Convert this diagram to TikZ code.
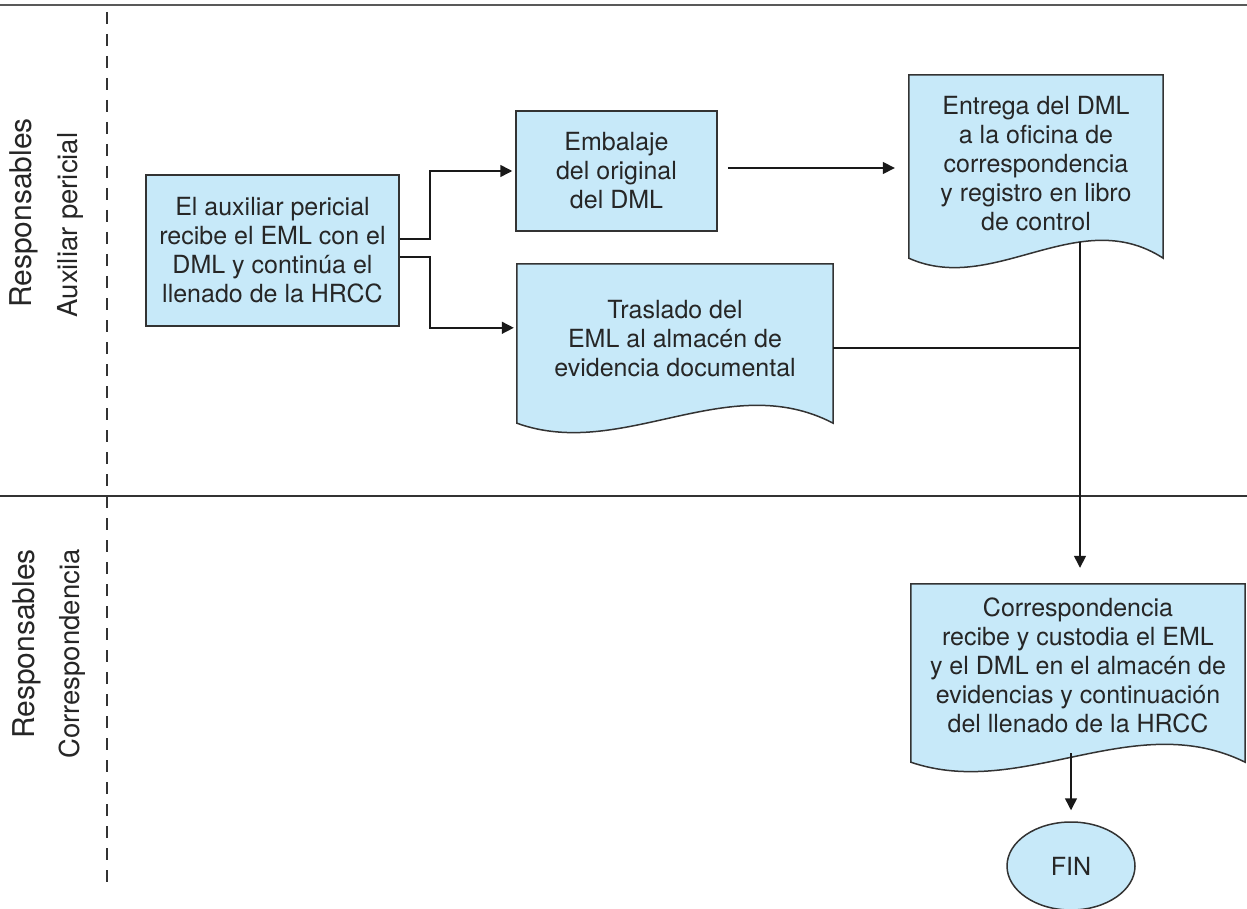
\documentclass[tikz,border=0pt]{standalone}
\usepackage{fontspec}
\setmainfont{TeX Gyre Heros}
\usetikzlibrary{arrows.meta,calc,backgrounds,shapes.geometric}
\definecolor{cajaazul}{RGB}{199,233,249}
\definecolor{borde}{RGB}{51,51,51}
\newcommand{\cajafont}{\fontsize{25}{29}\selectfont}
\tikzset{
 carril/.style={draw=black!65,line width=2pt},
 divisor/.style={draw=black!80,line width=1.2pt,dash pattern=on 12pt off 10pt},
 tarea/.style={rectangle,draw=borde,fill=cajaazul,line width=1.5pt,align=center,inner sep=0,font=\cajafont,text=black!85},
 docu/.style={rectangle,align=center,inner sep=0,font=\cajafont,text=black!85,text depth=#1},
 docu/.default=0pt,
 docborde/.style={draw=borde,fill=cajaazul,line width=1.5pt},
 terminal/.style={ellipse,draw=borde,fill=cajaazul,line width=1.5pt,inner sep=0,font=\cajafont,text=black!85},
 flujo/.style={draw=black!90,line width=1.5pt,-{Triangle[length=12pt,width=12pt]}},
 union/.style={draw=black!90,line width=1.5pt},
 rol/.style={rotate=90,font=\fontsize{30}{34}\selectfont,text=black!85},
 subrol/.style={rotate=90,font=\fontsize{27.5}{32}\selectfont,text=black!85}
}
% contorno de documento con borde ondulado
\newcommand{\docfondo}[1]{%
 \begin{scope}[on background layer]
 \path[docborde] (#1.south west) -- (#1.north west) -- (#1.north east) -- (#1.south east)
  .. controls ($(#1.south east)!1/3!(#1.south west)+(0,-55)$) and ($(#1.south east)!2/3!(#1.south west)+(0,38)$) .. (#1.south west) -- cycle;
 \end{scope}}

\begin{document}
\begin{tikzpicture}[x=1pt,y=-1pt]
\useasboundingbox (0,0) rectangle (1247,909);
% carriles
\draw[carril] (0,5) -- (1247,5);
\draw[carril,draw=black!80,line width=1.5pt] (0,496) -- (1247,496);
\draw[divisor] (107,12) -- (107,888);
\node[rol] (resp1) at (24,213) {Responsables};
\node[subrol] (aux) at (70,225) {Auxiliar pericial};
\node[rol] (resp2) at (27,644) {Responsables};
\node[subrol] (corr) at (72,654) {Correspondencia};
% tareas
\node[tarea,minimum width=253pt,minimum height=151pt] (recibe) at (272.5,250.5)
 {El auxiliar pericial\\recibe el EML con el\\DML y continúa el\\llenado de la HRCC};
\node[tarea,minimum width=201pt,minimum height=120pt] (embalaje) at (616.5,171)
 {Embalaje\\del original\\del DML};
\node[docu=10pt,minimum width=316pt,minimum height=159pt] (traslado) at (675,343.5)
 {Traslado del\\EML al almacén de\\evidencia documental};
\docfondo{traslado}
\node[docu=6pt,minimum width=254pt,minimum height=183pt] (entrega) at (1036,166.5)
 {Entrega del DML\\a la oficina de\\correspondencia\\y registro en libro\\de control};
\docfondo{entrega}
\node[docu=16pt,minimum width=334pt,minimum height=178pt] (corresp) at (1078,673)
 {Correspondencia\\recibe y custodia el EML\\y el DML en el almacén de\\evidencias y continuación\\del llenado de la HRCC};
\docfondo{corresp}
\node[terminal,minimum width=128pt,minimum height=88pt] (fin) at (1071,866) {FIN};
% conectores
\coordinate (salida) at ($(entrega.south)+(44,-16)$);
\coordinate (trasout) at ($(traslado.east)+(0,4.5)$);
\draw[flujo,shorten >=3pt] ($(recibe.east)+(0,-11.5)$) -- ++(30,0) |- (embalaje.west);
\draw[flujo,shorten >=3pt] ($(recibe.east)+(0,6.5)$) -- ++(30,0) |- ($(traslado.north west)+(0,64)$);
\draw[flujo,shorten <=10pt,shorten >=14pt] ($(embalaje.east)+(0,-3)$) -- ($(entrega.west)+(0,1.5)$);
\draw[union] (trasout) -- (trasout -| salida);
\draw[flujo,shorten >=16pt] (salida) -- (salida |- corresp.north);
\draw[flujo,shorten >=11pt] ($(corresp.south)+(-7,-9)$) -- (fin.north);
\end{tikzpicture}
\end{document}
